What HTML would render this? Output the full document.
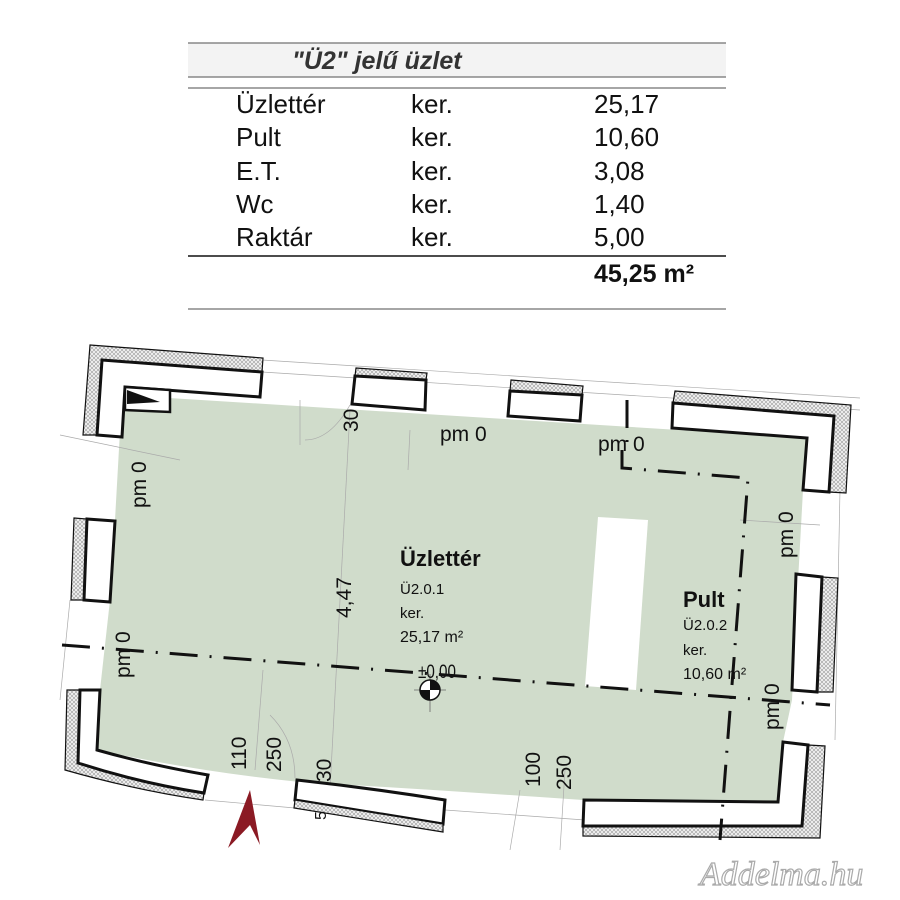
<!DOCTYPE html>
<html><head><meta charset="utf-8"><style>
html,body{margin:0;padding:0;background:#fff;width:900px;height:900px;overflow:hidden}
svg{display:block}
text{font-family:"Liberation Sans",sans-serif}
</style></head><body>
<svg width="900" height="900" viewBox="0 0 900 900" xmlns="http://www.w3.org/2000/svg">
<defs>
<pattern id="hx" width="4" height="4" patternUnits="userSpaceOnUse">
<rect width="4" height="4" fill="#f2f2f2"/>
<path d="M0 0L4 4M4 0L0 4" stroke="#9a9a9a" stroke-width="0.6"/>
</pattern>
</defs>
<!-- table -->
<rect x="188" y="43" width="538" height="34" fill="#f3f3f3"/>
<g stroke="#888" stroke-width="1.5">
<line x1="188" y1="43" x2="726" y2="43"/>
<line x1="188" y1="77" x2="726" y2="77"/>
<line x1="188" y1="88" x2="726" y2="88"/>
<line x1="188" y1="309" x2="726" y2="309"/>
</g>
<line x1="188" y1="256" x2="726" y2="256" stroke="#111" stroke-width="1.5"/>
<text x="292" y="69" font-size="25" font-weight="bold" font-style="italic" fill="#333">"Ü2" jelű üzlet</text>
<g font-size="26" fill="#111">
<text x="236" y="113">Üzlettér</text><text x="411" y="113">ker.</text><text x="594" y="113">25,17</text>
<text x="236" y="146">Pult</text><text x="411" y="146">ker.</text><text x="594" y="146">10,60</text>
<text x="236" y="180">E.T.</text><text x="411" y="180">ker.</text><text x="594" y="180">3,08</text>
<text x="236" y="213">Wc</text><text x="411" y="213">ker.</text><text x="594" y="213">1,40</text>
<text x="236" y="246">Raktár</text><text x="411" y="246">ker.</text><text x="594" y="246">5,00</text>
</g>
<text x="594" y="282" font-size="25" font-weight="bold" fill="#111">45,25 m²</text>

<!-- room fill -->
<path d="M122 395 L807 438 L803 490 L797 600 L792 700 L783 742 L778 802 L583 800 Q440 790 300 782 Q200 772 97 750 L100 690 L110 600 L115 520 Z" fill="#d0dccb"/>
<!-- column -->
<path d="M598 517 L648 520 L636 690 L585 686 Z" fill="#fff"/>

<!-- thin grid lines -->
<g stroke="#aaa" stroke-width="0.7" fill="none">
<path d="M60 435 L180 460"/><path d="M262 372 L860 410"/><path d="M262 360 L860 398"/>
<path d="M305 440 Q330 440 350 405"/><path d="M300 400 L300 445"/>
<path d="M350 410 L330 790"/><path d="M410 430 L408 470"/>
<path d="M263 670 L255 770"/><path d="M270 715 Q295 740 295 778"/>
<path d="M520 790 L510 850"/><path d="M565 770 L560 850"/>
<path d="M740 520 L820 525"/><path d="M840 490 L835 740"/>
<path d="M70 600 L60 700"/><path d="M205 800 L295 808"/><path d="M445 810 L585 820"/>
</g>

<!-- walls: top-left L -->
<path d="M90 345 L263 358 L262 372 L102 360 L97 435 L83 435 Z" fill="url(#hx)" stroke="#111" stroke-width="1.2"/>
<path d="M102 360 L262 372 L260 397 L125 387 L122 437 L97 435 Z" fill="#fff" stroke="#111" stroke-width="3"/>
<path d="M125 387 L170 390 L170 412 L125 410 Z" fill="#fff" stroke="#111" stroke-width="2.5"/>
<path d="M127 390 L160 402 L127 404 Z" fill="#111"/>
<!-- top pieces -->
<path d="M356 368 L427 373 L426 380 L355 376 Z" fill="url(#hx)" stroke="#111" stroke-width="1.2"/>
<path d="M355 376 L426 380 L425 410 L352 404 Z" fill="#fff" stroke="#111" stroke-width="3"/>
<path d="M511 380 L583 386 L582 395 L510 391 Z" fill="url(#hx)" stroke="#111" stroke-width="1.2"/>
<path d="M510 391 L582 395 L580 421 L508 416 Z" fill="#fff" stroke="#111" stroke-width="3"/>
<!-- top-right L -->
<path d="M675 391 L851 405 L846 493 L829 492 L834 416 L673 403 Z" fill="url(#hx)" stroke="#111" stroke-width="1.2"/>
<path d="M673 403 L834 416 L829 492 L803 490 L807 438 L672 428 Z" fill="#fff" stroke="#111" stroke-width="3"/>
<!-- right window -->
<path d="M822 577 L838 578 L833 692 L817 692 Z" fill="url(#hx)" stroke="#111" stroke-width="1.2"/>
<path d="M796 574 L822 577 L817 692 L792 690 Z" fill="#fff" stroke="#111" stroke-width="3"/>
<!-- bottom-right L -->
<path d="M808 745 L825 746 L820 838 L583 836 L583 826 L802 826 Z" fill="url(#hx)" stroke="#111" stroke-width="1.2"/>
<path d="M783 742 L808 745 L802 826 L583 826 L584 800 L778 802 Z" fill="#fff" stroke="#111" stroke-width="3"/>
<!-- bottom middle -->
<path d="M297 780 Q370 788 445 800 L443 824 Q370 812 295 800 Z" fill="#fff" stroke="#111" stroke-width="3"/>
<path d="M295 800 Q370 812 443 824 L443 832 Q370 820 294 808 Z" fill="url(#hx)" stroke="#111" stroke-width="1.2"/>
<!-- bottom-left L -->
<path d="M67 690 L80 690 L78 763 Q140 783 204 793 L203 800 Q135 790 65 770 Z" fill="url(#hx)" stroke="#111" stroke-width="1.2"/>
<path d="M80 690 L100 690 L97 750 Q150 765 208 775 L204 793 Q140 783 78 763 Z" fill="#fff" stroke="#111" stroke-width="3"/>
<!-- left window -->
<path d="M74 518 L87 519 L84 600 L71 600 Z" fill="url(#hx)" stroke="#111" stroke-width="1.2"/>
<path d="M87 519 L115 521 L110 602 L84 600 Z" fill="#fff" stroke="#111" stroke-width="3"/>

<!-- dash-dot lines -->
<g stroke="#111" stroke-width="3" fill="none" stroke-dasharray="28 12 2 12">
<path d="M62 645 L830 705"/>
<path d="M627 400 L627 445"/>
<path d="M622 450 L622 468 L748 478 L720 840"/>
</g>

<!-- level marker -->
<g transform="translate(430,690)">
<line x1="-16" y1="0" x2="16" y2="0" stroke="#666" stroke-width="0.8"/>
<line x1="0" y1="-16" x2="0" y2="22" stroke="#666" stroke-width="0.8"/>
<circle r="10" fill="#fff" stroke="#111" stroke-width="1.5"/>
<path d="M0 0 L0 -10 A10 10 0 0 1 10 0 Z M0 0 L0 10 A10 10 0 0 1 -10 0 Z" fill="#111"/>
</g>
<text font-size="19" fill="#111" transform="translate(418 678) scale(0.8 1)">±0,00</text>

<!-- labels -->
<g font-size="21" fill="#111">
<text x="440" y="441">pm 0</text>
<text x="598" y="451">pm 0</text>
<text transform="translate(146 508) rotate(-90)">pm 0</text>
<text transform="translate(130 678) rotate(-90)">pm 0</text>
<text transform="translate(793 558) rotate(-90)">pm 0</text>
<text transform="translate(779 730) rotate(-90)">pm 0</text>
<text transform="translate(358 432) rotate(-90)">30</text>
<text transform="translate(351 618) rotate(-90)">4,47</text>
<text transform="translate(246 770) rotate(-90)">110</text>
<text transform="translate(281 772) rotate(-90)">250</text>
<text transform="translate(331 782) rotate(-90)">30</text>
<text transform="translate(540 787) rotate(-90)">100</text>
<text transform="translate(571 790) rotate(-90)">250</text>
<text transform="translate(326 820) rotate(-90)" font-size="16">5</text>
</g>
<text x="400" y="566" font-size="22" font-weight="bold" fill="#111">Üzlettér</text>
<text x="400" y="594" font-size="15" fill="#111">Ü2.0.1</text>
<text x="400" y="618" font-size="15" fill="#111">ker.</text>
<text x="400" y="642" font-size="16" fill="#111">25,17 m²</text>
<text x="683" y="607" font-size="22" font-weight="bold" fill="#111">Pult</text>
<text x="683" y="630" font-size="15" fill="#111">Ü2.0.2</text>
<text x="683" y="655" font-size="15" fill="#111">ker.</text>
<text x="683" y="679" font-size="16" fill="#111">10,60 m²</text>

<!-- entrance arrow -->
<path d="M250 790 L260 845 L250 825 L228 848 Z" fill="#8b1a24"/>

<!-- watermark -->
<text x="700" y="885" font-size="34" font-style="italic" style="fill:#fff;stroke:#aaa;stroke-width:1.2;font-family:'Liberation Serif',serif">Addelma.hu</text>
</svg>
</body></html>
